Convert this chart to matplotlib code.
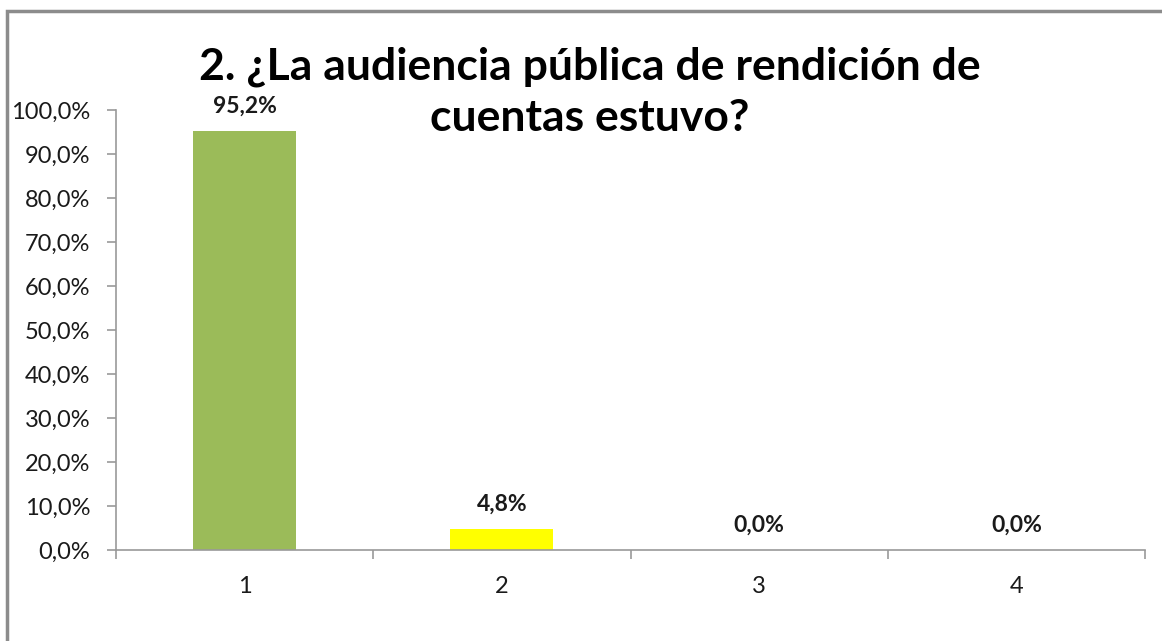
import matplotlib.pyplot as plt
from matplotlib.patches import Rectangle

categories = ["1", "2", "3", "4"]
values = [95.2, 4.8, 0.0, 0.0]
labels = ["95,2%", "4,8%", "0,0%", "0,0%"]
colors = ["#9BBB59", "#FFFF00", "#9BBB59", "#9BBB59"]
yticks = [0, 10, 20, 30, 40, 50, 60, 70, 80, 90, 100]

plt.rcParams['font.family'] = ['Lato', 'DejaVu Sans']

fig = plt.figure(figsize=(11.62, 6.41), dpi=100)
ax = fig.add_axes([116 / 1162, 1 - 550 / 641, (1145 - 116) / 1162, 440 / 641])

x = range(len(categories))
ax.bar(x, values, width=0.4, color=colors)
for i, (v, lab) in enumerate(zip(values, labels)):
    ax.text(i, v + 5.7, lab, ha='center', va='center', fontsize=16.5, fontweight='bold', color='#1a1a1a')

ax.set_xlim(-0.5, 3.5)
ax.set_ylim(0, 100)
ax.set_yticks(yticks)
ax.set_yticklabels([f"{t},0%" for t in yticks], fontsize=17, color='#1a1a1a')
ax.set_xticks([-0.5, 0.5, 1.5, 2.5, 3.5])
ax.set_xticklabels([])
ax.set_xticks(list(x), minor=True)
ax.set_xticklabels(categories, minor=True, fontsize=17, color='#1a1a1a')
ax.tick_params(axis='x', which='minor', length=0, pad=19)
ax.tick_params(axis='x', which='major', length=6.5, color='#999999', width=1.2)
ax.tick_params(axis='y', length=6.5, color='#999999', width=1.2, pad=12)

for s in ['top', 'right']:
    ax.spines[s].set_visible(False)
for s in ['left', 'bottom']:
    ax.spines[s].set_color('#999999')
    ax.spines[s].set_linewidth(1.2)

fig.text(590 / 1162, 1 - 92 / 641, "2. ¿La audiencia pública de rendición de\ncuentas estuvo?",
         ha='center', va='center', fontsize=32, fontweight='bold', linespacing=1.32)

fig.patches.append(Rectangle((7 / 1162, -0.1), 1.2, 1 - 11 / 641 + 0.1, transform=fig.transFigure,
                             fill=False, edgecolor='#8c8c8c', linewidth=2.5))

fig.savefig("out.png", dpi=100, facecolor='white')
